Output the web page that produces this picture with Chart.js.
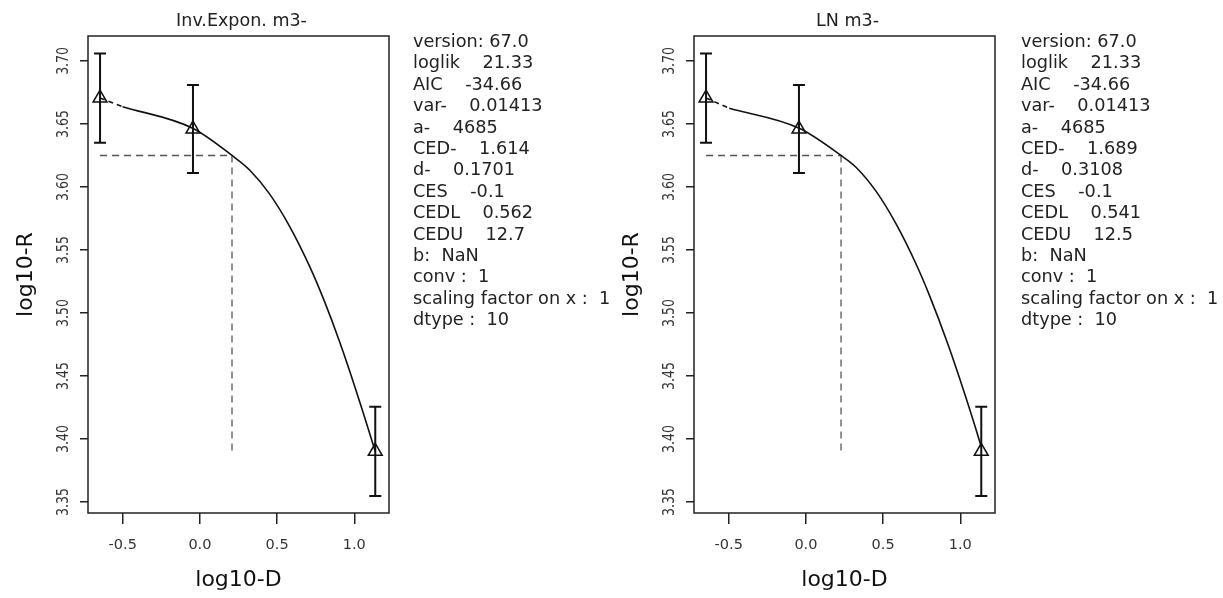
<!DOCTYPE html>
<html>
<head>
<meta charset="utf-8">
<script src="https://cdn.jsdelivr.net/npm/chart.js@4.4.1/dist/chart.umd.min.js"></script>
<style>
  body { margin: 0; background: #fff; width: 1223px; height: 598px; overflow: hidden; position: relative; }
  canvas { position: absolute; top: 0; }
  #invChart { left: 0; }
  #lnChart { left: 606px; }
</style>
</head>
<body>
<canvas id="invChart" width="617" height="598"></canvas>
<canvas id="lnChart" width="617" height="598"></canvas>
<script>
// observed data (log10 dose, log10 response, error bar ends)
const doseLog = [-0.647, -0.045, 1.136];
const respMean = [3.6706, 3.646, 3.3902];
const respLow = [3.635, 3.611, 3.3548];
const respHigh = [3.706, 3.681, 3.4256];

// fitted curves
const fitXInv = [-0.501, -0.047, 0.208, 0.322, 0.451, 0.580, 0.710, 0.807, 0.905, 1.013, 1.125, 1.136];
const fitYInv = [3.6637, 3.6466, 3.625, 3.6135, 3.5945, 3.5690, 3.5372, 3.5092, 3.4772, 3.4380, 3.3945, 3.3900];
const fitXLN = [-0.497, -0.043, 0.2276, 0.326, 0.455, 0.585, 0.715, 0.801, 0.920, 1.027, 1.129, 1.136];
const fitYLN = [3.6625, 3.6466, 3.625, 3.6155, 3.5965, 3.5705, 3.5385, 3.5138, 3.4752, 3.4365, 3.3966, 3.3935];

// CED markers
const cesLevel = 3.625;
const cedFoot = 3.39;
const cedInv = 0.2079;  // log10(1.614)
const cedLN = 0.2276;   // log10(1.689)

// axis ranges
const xRange = [-0.725, 1.225];
const yRange = [3.3413, 3.7198];

const infoInv = ['version: 67.0', 'loglik    21.33', 'AIC    -34.66', 'var-    0.01413', 'a-    4685',
  'CED-    1.614', 'd-    0.1701', 'CES    -0.1', 'CEDL    0.562', 'CEDU    12.7', 'b:  NaN',
  'conv :  1', 'scaling factor on x :  1', 'dtype :  10'];
const infoLN = ['version: 67.0', 'loglik    21.33', 'AIC    -34.66', 'var-    0.01413', 'a-    4685',
  'CED-    1.689', 'd-    0.3108', 'CES    -0.1', 'CEDL    0.541', 'CEDU    12.5', 'b:  NaN',
  'conv :  1', 'scaling factor on x :  1', 'dtype :  10'];

const FONT = '"DejaVu Sans", Verdana, sans-serif';

// R style decorations: box, error bars, labels, text block
const rPlot = {
  id: 'rPlot',
  afterDatasetsDraw(chart, args, opts) {
    const ctx = chart.ctx, a = chart.chartArea;
    const xs = chart.scales.x, ys = chart.scales.y;
    ctx.save();

    // error bars
    ctx.strokeStyle = '#111';
    ctx.lineWidth = 2;
    doseLog.forEach((d, i) => {
      const px = xs.getPixelForValue(d);
      const lo = ys.getPixelForValue(respLow[i]);
      const hi = ys.getPixelForValue(respHigh[i]);
      ctx.beginPath();
      ctx.moveTo(px, lo); ctx.lineTo(px, hi);
      ctx.moveTo(px - 6, lo); ctx.lineTo(px + 6, lo);
      ctx.moveTo(px - 6, hi); ctx.lineTo(px + 6, hi);
      ctx.stroke();
    });

    // box
    ctx.lineWidth = 1.5;
    ctx.strokeStyle = '#222';
    ctx.strokeRect(a.left, a.top, a.right - a.left, a.bottom - a.top);

    ctx.fillStyle = '#222';
    ctx.textAlign = 'center';
    ctx.textBaseline = 'alphabetic';

    // title
    ctx.font = '17.5px ' + FONT;
    ctx.fillText(opts.title, (a.left + a.right) / 2 + 3, 26);

    // x tick labels
    ctx.fillStyle = '#333';
    ctx.font = '14.5px ' + FONT;
    xs.ticks.forEach(t => {
      ctx.fillText(t.value.toFixed(1), xs.getPixelForValue(t.value), 549);
    });

    // y tick labels, rotated
    ctx.font = '12.5px ' + FONT;
    ys.ticks.forEach(t => {
      ctx.save();
      ctx.translate(a.left - 20, ys.getPixelForValue(t.value));
      ctx.scale(1.2, 1);
      ctx.rotate(-Math.PI / 2);
      ctx.fillText(t.value.toFixed(2), 0, 0);
      ctx.restore();
    });

    // axis titles
    ctx.fillStyle = '#111';
    ctx.font = '22px ' + FONT;
    ctx.fillText('log10-D', (a.left + a.right) / 2, 586);
    ctx.save();
    ctx.translate(32, (a.top + a.bottom) / 2);
    ctx.rotate(-Math.PI / 2);
    ctx.fillText('log10-R', 0, 0);
    ctx.restore();

    // info text
    ctx.textAlign = 'left';
    ctx.fillStyle = '#222';
    ctx.font = '17.7px ' + FONT;
    opts.info.forEach((line, i) => {
      ctx.fillText(line, opts.infoX, 47 + i * 21.4);
    });

    ctx.restore();
  }
};

function pts(xs, ys) {
  return xs.map((x, i) => ({ x: x, y: ys[i] }));
}

function makePanel(id, title, fitX, fitY, ced, info, infoX) {
  return new Chart(document.getElementById(id), {
    type: 'line',
    data: {
      datasets: [
        {
          // fitted curve
          data: pts(fitX, fitY),
          borderColor: '#111',
          borderWidth: 1.6,
          pointRadius: 0,
          cubicInterpolationMode: 'monotone',
          fill: false
        },
        {
          // dashed piece towards lowest dose
          data: [{ x: doseLog[0], y: respMean[0] }, { x: fitX[0], y: fitY[0] }],
          borderColor: '#111',
          borderWidth: 1.6,
          borderDash: [5, 4],
          pointRadius: 0,
          fill: false
        },
        {
          // CES level, horizontal
          data: [{ x: doseLog[0], y: cesLevel }, { x: ced, y: cesLevel }],
          borderColor: '#555',
          borderWidth: 1.6,
          borderDash: [7, 5],
          pointRadius: 0,
          fill: false
        },
        {
          // CED, vertical
          data: [{ x: ced, y: cesLevel }, { x: ced, y: cedFoot }],
          borderColor: '#777',
          borderWidth: 1.6,
          borderDash: [7, 5],
          pointRadius: 0,
          fill: false
        },
        {
          // observed means
          data: pts(doseLog, respMean),
          showLine: false,
          pointStyle: 'triangle',
          pointRadius: 8,
          pointBorderWidth: 1.5,
          pointBorderColor: '#111',
          pointBackgroundColor: 'rgba(0,0,0,0)'
        }
      ]
    },
    options: {
      responsive: false,
      animation: false,
      layout: { padding: { left: 68, right: 228, top: 36, bottom: 65 } },
      plugins: {
        legend: { display: false },
        tooltip: { enabled: false },
        rPlot: { title: title, info: info, infoX: infoX }
      },
      scales: {
        x: {
          type: 'linear',
          min: xRange[0],
          max: xRange[1],
          ticks: { stepSize: 0.5, includeBounds: false, display: false },
          grid: { drawOnChartArea: false, drawTicks: true, tickLength: 11, color: '#222', lineWidth: 1.5 },
          border: { display: false },
          afterFit(s) { s.height = 20; }
        },
        y: {
          type: 'linear',
          min: yRange[0],
          max: yRange[1],
          ticks: { stepSize: 0.05, includeBounds: false, display: false },
          grid: { drawOnChartArea: false, drawTicks: true, tickLength: 8, color: '#222', lineWidth: 1.5 },
          border: { display: false },
          afterFit(s) { s.width = 20; }
        }
      }
    },
    plugins: [rPlot]
  });
}

makePanel('invChart', 'Inv.Expon. m3-', fitXInv, fitYInv, cedInv, infoInv, 413);
makePanel('lnChart', 'LN m3-', fitXLN, fitYLN, cedLN, infoLN, 415);
</script>
</body>
</html>
